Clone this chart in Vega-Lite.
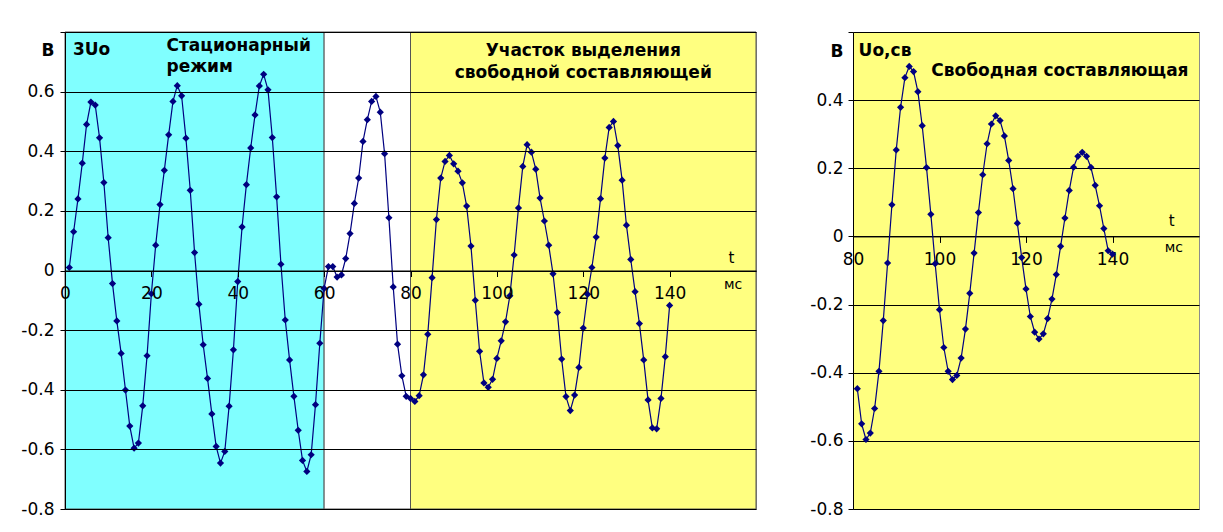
{
  "$schema": "https://vega.github.io/schema/vega-lite/v6.json",
  "background": "white",
  "padding": {"left": 20, "top": 31, "right": 5, "bottom": 5},
  "bounds": "flush",
  "spacing": 97,
  "config": {
    "font": "DejaVu Sans",
    "view": {"stroke": "#8c8c8c"},
    "text": {"color": "#000"}
  },
  "datasets": {
    "anchor": [{}],
    "zones": [
      {"start": 0, "end": 60, "zone": "stationary"},
      {"start": 60, "end": 80, "zone": "transition"},
      {"start": 80, "end": 160, "zone": "free"}
    ],
    "total": [
      {"t": 1, "v": 0.01}, {"t": 2, "v": 0.13}, {"t": 3, "v": 0.24}, {"t": 4, "v": 0.36}, {"t": 5, "v": 0.49},
      {"t": 6, "v": 0.565}, {"t": 7, "v": 0.555}, {"t": 8, "v": 0.445}, {"t": 9, "v": 0.295}, {"t": 10, "v": 0.11},
      {"t": 11, "v": -0.044}, {"t": 12, "v": -0.169}, {"t": 13, "v": -0.278}, {"t": 14, "v": -0.401}, {"t": 15, "v": -0.522},
      {"t": 16, "v": -0.596}, {"t": 17, "v": -0.579}, {"t": 18, "v": -0.454}, {"t": 19, "v": -0.286}, {"t": 20, "v": -0.078},
      {"t": 21, "v": 0.085}, {"t": 22, "v": 0.221}, {"t": 23, "v": 0.336}, {"t": 24, "v": 0.455}, {"t": 25, "v": 0.567},
      {"t": 26, "v": 0.62}, {"t": 27, "v": 0.586}, {"t": 28, "v": 0.444}, {"t": 29, "v": 0.269}, {"t": 30, "v": 0.06},
      {"t": 31, "v": -0.113}, {"t": 32, "v": -0.249}, {"t": 33, "v": -0.362}, {"t": 34, "v": -0.481}, {"t": 35, "v": -0.59},
      {"t": 36, "v": -0.646}, {"t": 37, "v": -0.607}, {"t": 38, "v": -0.455}, {"t": 39, "v": -0.266}, {"t": 40, "v": -0.037},
      {"t": 41, "v": 0.146}, {"t": 42, "v": 0.288}, {"t": 43, "v": 0.411}, {"t": 44, "v": 0.522}, {"t": 45, "v": 0.619},
      {"t": 46, "v": 0.658}, {"t": 47, "v": 0.606}, {"t": 48, "v": 0.446}, {"t": 49, "v": 0.247}, {"t": 50, "v": 0.021},
      {"t": 51, "v": -0.166}, {"t": 52, "v": -0.3}, {"t": 53, "v": -0.422}, {"t": 54, "v": -0.536}, {"t": 55, "v": -0.637},
      {"t": 56, "v": -0.674}, {"t": 57, "v": -0.618}, {"t": 58, "v": -0.45}, {"t": 59, "v": -0.244}, {"t": 60, "v": -0.06},
      {"t": 61, "v": 0.013}, {"t": 62, "v": 0.013}, {"t": 63, "v": -0.022}, {"t": 64, "v": -0.015}, {"t": 65, "v": 0.04},
      {"t": 66, "v": 0.124}, {"t": 67, "v": 0.225}, {"t": 68, "v": 0.31}, {"t": 69, "v": 0.433}, {"t": 70, "v": 0.506},
      {"t": 71, "v": 0.567}, {"t": 72, "v": 0.584}, {"t": 73, "v": 0.531}, {"t": 74, "v": 0.392}, {"t": 75, "v": 0.177},
      {"t": 76, "v": -0.055}, {"t": 77, "v": -0.247}, {"t": 78, "v": -0.353}, {"t": 79, "v": -0.422}, {"t": 80, "v": -0.429},
      {"t": 81, "v": -0.439}, {"t": 82, "v": -0.42}, {"t": 83, "v": -0.35}, {"t": 84, "v": -0.214}, {"t": 85, "v": -0.024},
      {"t": 86, "v": 0.171}, {"t": 87, "v": 0.31}, {"t": 88, "v": 0.366}, {"t": 89, "v": 0.386}, {"t": 90, "v": 0.358},
      {"t": 91, "v": 0.333}, {"t": 92, "v": 0.294}, {"t": 93, "v": 0.216}, {"t": 94, "v": 0.082}, {"t": 95, "v": -0.1},
      {"t": 96, "v": -0.271}, {"t": 97, "v": -0.377}, {"t": 98, "v": -0.392}, {"t": 99, "v": -0.365}, {"t": 100, "v": -0.295},
      {"t": 101, "v": -0.236}, {"t": 102, "v": -0.172}, {"t": 103, "v": -0.085}, {"t": 104, "v": 0.052}, {"t": 105, "v": 0.21},
      {"t": 106, "v": 0.349}, {"t": 107, "v": 0.422}, {"t": 108, "v": 0.397}, {"t": 109, "v": 0.34}, {"t": 110, "v": 0.243},
      {"t": 111, "v": 0.166}, {"t": 112, "v": 0.085}, {"t": 113, "v": -0.011}, {"t": 114, "v": -0.141}, {"t": 115, "v": -0.297},
      {"t": 116, "v": -0.423}, {"t": 117, "v": -0.47}, {"t": 118, "v": -0.418}, {"t": 119, "v": -0.325}, {"t": 120, "v": -0.193},
      {"t": 121, "v": -0.08}, {"t": 122, "v": 0.01}, {"t": 123, "v": 0.112}, {"t": 124, "v": 0.241}, {"t": 125, "v": 0.377},
      {"t": 126, "v": 0.48}, {"t": 127, "v": 0.5}, {"t": 128, "v": 0.419}, {"t": 129, "v": 0.303}, {"t": 130, "v": 0.152},
      {"t": 131, "v": 0.037}, {"t": 132, "v": -0.071}, {"t": 133, "v": -0.178}, {"t": 134, "v": -0.3}, {"t": 135, "v": -0.434},
      {"t": 136, "v": -0.528}, {"t": 137, "v": -0.531}, {"t": 138, "v": -0.429}, {"t": 139, "v": -0.289}, {"t": 140, "v": -0.117}
    ],
    "free": [
      {"t": 81, "v": -0.447}, {"t": 82, "v": -0.55}, {"t": 83, "v": -0.596}, {"t": 84, "v": -0.577}, {"t": 85, "v": -0.505},
      {"t": 86, "v": -0.396}, {"t": 87, "v": -0.247}, {"t": 88, "v": -0.078}, {"t": 89, "v": 0.093}, {"t": 90, "v": 0.254},
      {"t": 91, "v": 0.379}, {"t": 92, "v": 0.466}, {"t": 93, "v": 0.499}, {"t": 94, "v": 0.484}, {"t": 95, "v": 0.425},
      {"t": 96, "v": 0.325}, {"t": 97, "v": 0.202}, {"t": 98, "v": 0.065}, {"t": 99, "v": -0.08}, {"t": 100, "v": -0.215},
      {"t": 101, "v": -0.326}, {"t": 102, "v": -0.396}, {"t": 103, "v": -0.42}, {"t": 104, "v": -0.408}, {"t": 105, "v": -0.357},
      {"t": 106, "v": -0.272}, {"t": 107, "v": -0.167}, {"t": 108, "v": -0.049}, {"t": 109, "v": 0.07}, {"t": 110, "v": 0.181},
      {"t": 111, "v": 0.272}, {"t": 112, "v": 0.33}, {"t": 113, "v": 0.354}, {"t": 114, "v": 0.34}, {"t": 115, "v": 0.295},
      {"t": 116, "v": 0.223}, {"t": 117, "v": 0.14}, {"t": 118, "v": 0.039}, {"t": 119, "v": -0.062}, {"t": 120, "v": -0.154},
      {"t": 121, "v": -0.235}, {"t": 122, "v": -0.281}, {"t": 123, "v": -0.301}, {"t": 124, "v": -0.286}, {"t": 125, "v": -0.241},
      {"t": 126, "v": -0.184}, {"t": 127, "v": -0.112}, {"t": 128, "v": -0.029}, {"t": 129, "v": 0.054}, {"t": 130, "v": 0.135},
      {"t": 131, "v": 0.203}, {"t": 132, "v": 0.235}, {"t": 133, "v": 0.247}, {"t": 134, "v": 0.235}, {"t": 135, "v": 0.203},
      {"t": 136, "v": 0.15}, {"t": 137, "v": 0.09}, {"t": 138, "v": 0.023}, {"t": 139, "v": -0.042}, {"t": 140, "v": -0.052}
    ]
  },
  "hconcat": [
    {
      "width": 691,
      "height": 477,
      "layer": [
        {
          "data": {"name": "zones"},
          "mark": {"type": "rect", "stroke": "#555555", "strokeWidth": 1},
          "encoding": {
            "x": {"field": "start", "type": "quantitative"},
            "x2": {"field": "end"},
            "y": {"datum": -0.8},
            "y2": {"datum": 0.8},
            "color": {"field": "zone", "type": "nominal", "legend": null,
              "scale": {"domain": ["stationary", "transition", "free"], "range": ["#80FFFF", "#FFFFFF", "#FFFF80"]}}
          }
        },
        {
          "data": {"name": "total"},
          "mark": {"type": "line", "color": "#000080", "strokeWidth": 1.2,
            "point": {"shape": "diamond", "filled": true, "size": 52, "color": "#000080"}},
          "encoding": {
            "x": {"field": "t", "type": "quantitative",
              "scale": {"domain": [0, 160], "nice": false, "zero": false},
              "axis": {"title": null, "values": [0, 20, 40, 60, 80, 100, 120, 140, 160], "offset": -238.5,
                "domainColor": "#000", "tickColor": "#000", "tickSize": 6, "labelPadding": 9, "labelFontSize": 17,
                "labelColor": "#000", "labelFlush": false, "grid": false, "zindex": 1,
                "labelExpr": "datum.value >= 160 ? '' : datum.label",
                "tickOpacity": {"condition": {"test": "datum.value >= 160", "value": 0}, "value": 1}}},
            "y": {"field": "v", "type": "quantitative",
              "scale": {"domain": [-0.8, 0.8], "nice": false, "zero": false},
              "axis": {"title": null, "values": [-0.8, -0.6, -0.4, -0.2, 0, 0.2, 0.4, 0.6, 0.8],
                "grid": true, "gridColor": "#000", "gridOpacity": 1, "gridWidth": 1,
                "domainColor": "#000", "tickColor": "#000", "tickSize": 5, "labelPadding": 6,
                "labelFontSize": 17, "labelColor": "#000", "zindex": 1,
                "labelExpr": "datum.value > 0.79 ? 'В' : (datum.value < 0 ? '-' + format(-datum.value, '.1~f') : format(datum.value, '.1~f'))",
                "labelFontWeight": {"condition": {"test": "datum.value > 0.79", "value": "bold"}, "value": "normal"},
                "labelBaseline": {"condition": {"test": "datum.value > 0.79", "value": "alphabetic"}, "value": "middle"},
                "labelOffset": {"condition": {"test": "datum.value > 0.79", "value": 23}, "value": 0}}}
          }
        },
        {
          "data": {"name": "anchor"},
          "mark": {"type": "text", "align": "left", "baseline": "alphabetic", "fontSize": 17, "fontWeight": "bold"},
          "encoding": {"x": {"datum": 1.85}, "y": {"datum": 0.7232}, "text": {"value": "3Uo"}}
        },
        {
          "data": {"name": "anchor"},
          "mark": {"type": "text", "align": "left", "baseline": "alphabetic", "fontSize": 17, "fontWeight": "bold", "lineHeight": 21.6},
          "encoding": {"x": {"datum": 23.5}, "y": {"datum": 0.7376}, "text": {"value": ["Стационарный", "режим"]}}
        },
        {
          "data": {"name": "anchor"},
          "mark": {"type": "text", "align": "center", "baseline": "alphabetic", "fontSize": 17, "fontWeight": "bold", "lineHeight": 21.6},
          "encoding": {"x": {"datum": 120}, "y": {"datum": 0.7198}, "text": {"value": ["Участок выделения", "свободной составляющей"]}}
        },
        {
          "data": {"name": "anchor"},
          "mark": {"type": "text", "align": "center", "baseline": "alphabetic", "fontSize": 15},
          "encoding": {"x": {"datum": 154.3}, "y": {"datum": 0.026}, "text": {"value": "t"}}
        },
        {
          "data": {"name": "anchor"},
          "mark": {"type": "text", "align": "center", "baseline": "alphabetic", "fontSize": 14},
          "encoding": {"x": {"datum": 154.7}, "y": {"datum": -0.063}, "text": {"value": "мс"}}
        }
      ]
    },
    {
      "width": 346,
      "height": 477,
      "view": {"fill": "#FFFF80", "stroke": "#8c8c8c"},
      "layer": [
        {
          "data": {"name": "free"},
          "mark": {"type": "line", "color": "#000080", "strokeWidth": 1.2,
            "point": {"shape": "diamond", "filled": true, "size": 52, "color": "#000080"}},
          "encoding": {
            "x": {"field": "t", "type": "quantitative",
              "scale": {"domain": [80, 160], "nice": false, "zero": false},
              "axis": {"title": null, "values": [80, 100, 120, 140, 160], "offset": -272.57,
                "domainColor": "#000", "tickColor": "#000", "tickSize": 6, "labelPadding": 9, "labelFontSize": 17,
                "labelColor": "#000", "labelFlush": false, "grid": false,
                "labelExpr": "datum.value >= 160 ? '' : datum.label",
                "tickOpacity": {"condition": {"test": "datum.value >= 160", "value": 0}, "value": 1}}},
            "y": {"field": "v", "type": "quantitative",
              "scale": {"domain": [-0.8, 0.6], "nice": false, "zero": false},
              "axis": {"title": null, "values": [-0.8, -0.6, -0.4, -0.2, 0, 0.2, 0.4, 0.6],
                "grid": true, "gridColor": "#000", "gridOpacity": 1, "gridWidth": 1,
                "domainColor": "#000", "tickColor": "#000", "tickSize": 5, "labelPadding": 5,
                "labelFontSize": 17, "labelColor": "#000",
                "labelExpr": "datum.value > 0.59 ? 'В' : (datum.value < 0 ? '-' + format(-datum.value, '.1~f') : format(datum.value, '.1~f'))",
                "labelFontWeight": {"condition": {"test": "datum.value > 0.59", "value": "bold"}, "value": "normal"},
                "labelBaseline": {"condition": {"test": "datum.value > 0.59", "value": "alphabetic"}, "value": "middle"},
                "labelOffset": {"condition": {"test": "datum.value > 0.59", "value": 24}, "value": 0}}}
          }
        },
        {
          "data": {"name": "anchor"},
          "mark": {"type": "text", "align": "left", "baseline": "alphabetic", "fontSize": 17, "fontWeight": "bold"},
          "encoding": {"x": {"datum": 81.3}, "y": {"datum": 0.5295}, "text": {"value": "Uo,св"}}
        },
        {
          "data": {"name": "anchor"},
          "mark": {"type": "text", "align": "left", "baseline": "alphabetic", "fontSize": 17, "fontWeight": "bold"},
          "encoding": {"x": {"datum": 98.1}, "y": {"datum": 0.4708}, "text": {"value": "Свободная составляющая"}}
        },
        {
          "data": {"name": "anchor"},
          "mark": {"type": "text", "align": "center", "baseline": "alphabetic", "fontSize": 15},
          "encoding": {"x": {"datum": 153.7}, "y": {"datum": 0.0305}, "text": {"value": "t"}}
        },
        {
          "data": {"name": "anchor"},
          "mark": {"type": "text", "align": "center", "baseline": "alphabetic", "fontSize": 14},
          "encoding": {"x": {"datum": 154.2}, "y": {"datum": -0.045}, "text": {"value": "мс"}}
        }
      ]
    }
  ]
}
